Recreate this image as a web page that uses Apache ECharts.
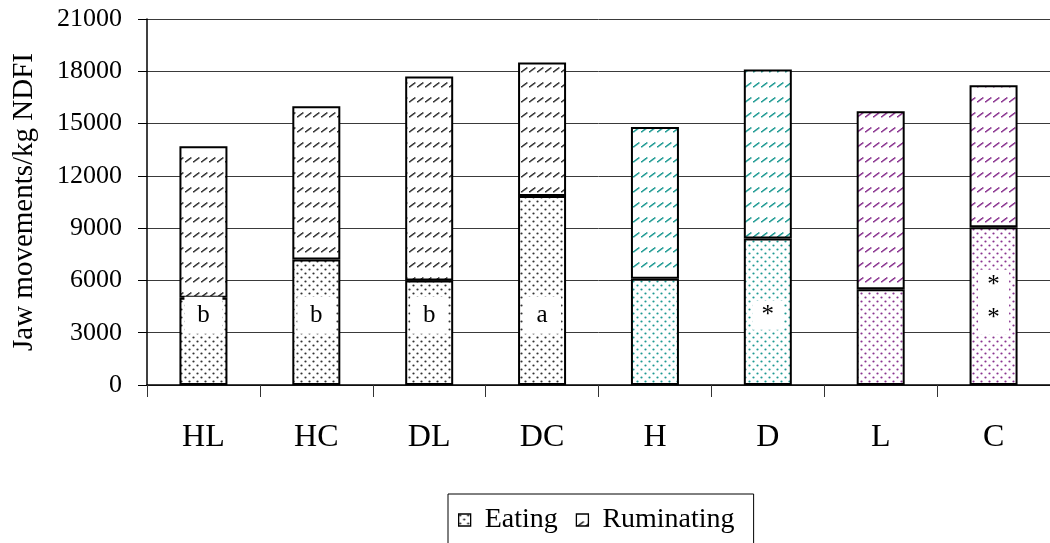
<!DOCTYPE html>
<html>
<head>
<meta charset="utf-8">
<script src="https://cdn.jsdelivr.net/npm/echarts@6/dist/echarts.min.js"></script>
<style>
  html, body { margin: 0; padding: 0; background: #fff; }
  #chart { width: 1050px; height: 543px; }
</style>
</head>
<body>
<div id="chart"></div>
<script>
// Diets, jaw movement components (per kg NDF intake) and significance marks
const categories = ['HL', 'HC', 'DL', 'DC', 'H', 'D', 'L', 'C'];
const eating = [5000, 7200, 6000, 10850, 6100, 8400, 5500, 9050];
const ruminating = [8700, 8800, 11700, 7650, 8700, 9700, 10200, 8150];
const groups = ['combo', 'combo', 'combo', 'combo', 'forage', 'forage', 'level', 'level'];
const notes = ['b', 'b', 'b', 'a', '', '*', '', '*\n*'];
const yTicks = [0, 3000, 6000, 9000, 12000, 15000, 18000, 21000];

const SERIF = '"Liberation Serif", "DejaVu Serif", serif';
const groupInk = { combo: '#333333', forage: '#1f9a93', level: '#8a3590' };

// Fill textures: stippled dots for eating, short slanted dashes for ruminating
function dotTile(ink) {
  const c = document.createElement('canvas');
  c.width = 8; c.height = 8;
  const g = c.getContext('2d');
  g.fillStyle = '#fff';
  g.fillRect(0, 0, 8, 8);
  g.fillStyle = ink;
  [[1.5, 1.5], [5.5, 5.5]].forEach(([x, y]) => {
    g.beginPath(); g.arc(x, y, 1.1, 0, Math.PI * 2); g.fill();
  });
  return { image: c, repeat: 'repeat' };
}
function dashTile(ink) {
  const c = document.createElement('canvas');
  c.width = 8; c.height = 15;
  const g = c.getContext('2d');
  g.fillStyle = '#fff';
  g.fillRect(0, 0, 8, 15);
  g.fillStyle = ink;
  for (let i = 0; i < 6; i++) {
    g.fillRect(1 + i, 11 - i * 0.75, 1.5, 1.5);
  }
  return { image: c, repeat: 'repeat' };
}

const eatFill = {}, rumFill = {};
Object.keys(groupInk).forEach(k => {
  eatFill[k] = dotTile(groupInk[k]);
  rumFill[k] = dashTile(groupInk[k]);
});

const barBase = {
  type: 'bar',
  stack: 'jaw',
  barWidth: 48
};

// boxes behind the significance marks
function noteLabel(t) {
  if (t.indexOf('\n') >= 0) return { width: 31, height: 65, offset: [0, -13] };
  if (t === '*') return { width: 31, height: 29 };
  return { width: 38, height: 37 };
}

const chart = echarts.init(document.getElementById('chart'));
chart.setOption({
  animation: false,
  backgroundColor: '#fff',
  textStyle: { fontFamily: SERIF, color: '#000' },
  grid: { left: 147, right: -6, top: 19, bottom: 158 },
  legend: {
    data: [
      { name: 'Eating', itemStyle: { color: dotTile('#222'), borderColor: '#000', borderWidth: 1.3 } },
      { name: 'Ruminating', itemStyle: { color: dashTile('#222'), borderColor: '#000', borderWidth: 1.3 } }
    ],
    left: 448,
    top: 494,
    icon: 'rect',
    itemWidth: 12,
    itemHeight: 12,
    itemGap: 18,
    padding: [12, 19, 24, 10],
    borderColor: '#000',
    borderWidth: 1,
    textStyle: { fontFamily: SERIF, fontSize: 28, color: '#000', padding: [0, 0, 0, 9] }
  },
  xAxis: {
    type: 'category',
    data: categories,
    axisLine: { lineStyle: { color: '#000', width: 1.5 } },
    axisTick: { show: true, length: 12, inside: false, lineStyle: { color: '#333' } },
    axisLabel: { fontFamily: SERIF, fontSize: 32, color: '#000', margin: 37 }
  },
  yAxis: {
    type: 'value',
    min: 0,
    max: 21000,
    interval: 3000,
    name: 'Jaw movements/kg NDFI',
    nameLocation: 'middle',
    nameGap: 108,
    nameTextStyle: { fontFamily: SERIF, fontSize: 29, color: '#000' },
    axisLine: { show: true, lineStyle: { color: '#000', width: 1.5 } },
    axisTick: { show: true, length: 9, lineStyle: { color: '#000' } },
    axisLabel: {
      fontFamily: SERIF, fontSize: 26, color: '#000', margin: 25,
      formatter: v => (yTicks.indexOf(v) >= 0 ? String(v) : '')
    },
    splitLine: { show: true, lineStyle: { color: '#3a3a3a', width: 1 } }
  },
  series: [
    Object.assign({}, barBase, {
      name: 'Eating',
      itemStyle: { color: eatFill.combo, borderColor: '#000', borderWidth: 2 },
      data: eating.map((v, i) => ({ value: v, itemStyle: { color: eatFill[groups[i]] } }))
    }),
    Object.assign({}, barBase, {
      name: 'Ruminating',
      itemStyle: { color: rumFill.combo, borderColor: '#000', borderWidth: 2 },
      data: ruminating.map((v, i) => ({ value: v, itemStyle: { color: rumFill[groups[i]] } }))
    }),
    {
      // significance letters sitting in white boxes inside the eating segments
      type: 'scatter',
      symbolSize: 0,
      silent: true,
      z: 5,
      data: notes.map((t, i) => (t ? {
        value: [i, 4000],
        note: t,
        label: noteLabel(t)
      } : null)).filter(Boolean),
      label: {
        show: true,
        position: 'inside',
        formatter: p => p.data.note,
        fontFamily: SERIF,
        fontSize: 25,
        lineHeight: 33,
        color: '#000',
        textBorderWidth: 0,
        opacity: 1,
        align: 'center',
        verticalAlign: 'middle',
        backgroundColor: '#fff',
        padding: 0
      }
    }
  ]
});
</script>
</body>
</html>
